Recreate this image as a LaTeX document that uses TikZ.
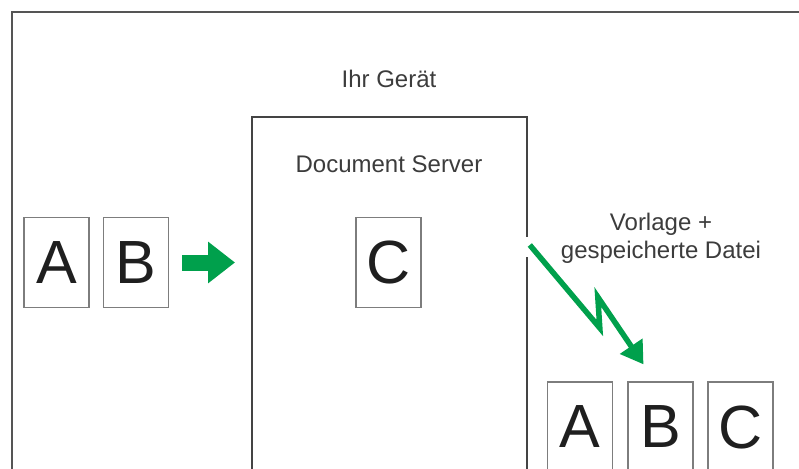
\documentclass[tikz,border=0pt]{standalone}
\usepackage{fontspec}
\setmainfont{Liberation Sans}
\usetikzlibrary{arrows.meta,positioning}
\definecolor{ricohgreen}{RGB}{0,160,76}
\definecolor{framegray}{RGB}{85,85,85}
\definecolor{pagegray}{RGB}{125,125,125}
\definecolor{labelgray}{RGB}{60,60,60}
\begin{document}
\begin{tikzpicture}[
   x=1pt, y=-1pt,
   frame/.style={draw=framegray,line width=2.8pt},
   devbox/.style={draw=framegray!80!black,line width=1.8pt,minimum width=275pt,
                  minimum height=400pt,anchor=north west,inner sep=0pt},
   page/.style={draw=pagegray,line width=1.2pt,minimum width=65pt,minimum height=90pt,
                inner sep=0pt,text=black!88,font=\fontsize{61}{61}\selectfont},
   label/.style={text=labelgray,font=\fontsize{24}{28}\selectfont,inner sep=0pt},
   fatarrow/.style={-{Triangle[length=27pt,width=40pt]},draw=ricohgreen,line width=16pt},
   sendarrow/.style={-{Triangle[length=22pt,width=26pt]},draw=ricohgreen,line width=5.5pt,
                     line join=miter},
   ]
\useasboundingbox (0,0) rectangle (799,468);
\clip (0,0) rectangle (799,468);
%% outer frame
\draw[frame] (12,490) |- (820,12);
%% originals
\node[page] (pA) at (56.5,262.5) {A};
\node[page] (pB) at (136,262.5)  {B};
%% device with Document Server
\node[devbox] (dev) at (251,116) {};
\node[label,anchor=base] (geraet) at (389,88) {Ihr Gerät};
\node[label,anchor=base] (ds) at (389,172) {Document Server};
\node[page] (pC) at (388.5,262.5) {C};
\draw[white,line width=4pt] ([yshift=-121pt]dev.north east) -- ([yshift=-141pt]dev.north east);
%% output
\node[label,anchor=north,align=center] (out) at (661,213) {Vorlage +\\gespeicherte Datei};
\node[page] (qA) at (580,427)   {A};
\node[page] (qB) at (660.5,427) {B};
\node[page] (qC) at (740.5,427) {C};
%% arrows
\draw[fatarrow,shorten <=13pt,shorten >=16pt] (pB.east) -- (pB.east -| dev.west);
\coordinate (zs) at ([shift={(2pt,-129pt)}]dev.north east);
\coordinate (zt) at ([shift={(-17pt,17pt)}]qB.north);
\draw[sendarrow] (zs) -- ++(70,83) -- ++(-2,-31) -- (zt);
\end{tikzpicture}
\end{document}
